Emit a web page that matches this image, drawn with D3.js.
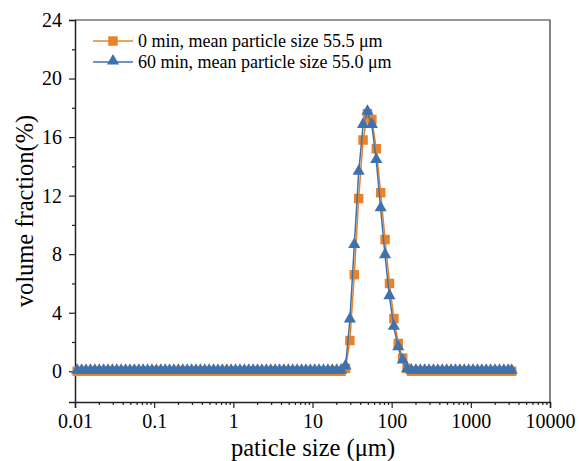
<!DOCTYPE html>
<html>
<head>
<meta charset="utf-8">
<script src="https://cdn.jsdelivr.net/npm/d3@7"></script>
<style>
  body { margin: 0; background: #fff; }
  svg text { font-family: "Liberation Serif", "Times New Roman", serif; fill: #000; }
</style>
</head>
<body>
<div id="chart"></div>
<script>
// particle size classes (bin centres, µm)
const sizes = [
  0.01066, 0.01212, 0.01377, 0.01565, 0.01778, 0.02021, 0.02297, 0.02610, 0.02966, 0.03371,
  0.03831, 0.04354, 0.04948, 0.05623, 0.06391, 0.07263, 0.08254, 0.09380, 0.1066, 0.1212,
  0.1377, 0.1565, 0.1778, 0.2021, 0.2297, 0.2610, 0.2966, 0.3371, 0.3831, 0.4354,
  0.4948, 0.5623, 0.6391, 0.7263, 0.8254, 0.9380, 1.066, 1.212, 1.377, 1.565,
  1.778, 2.021, 2.297, 2.610, 2.966, 3.371, 3.831, 4.354, 4.948, 5.623,
  6.391, 7.263, 8.254, 9.380, 10.66, 12.12, 13.77, 15.65, 17.78, 20.21,
  22.97, 26.10, 29.66, 33.71, 38.31, 43.54, 49.48, 56.23, 63.91, 72.63,
  82.54, 93.80, 106.6, 121.2, 137.7, 156.5, 177.8, 202.1, 229.7, 261.0,
  296.6, 337.1, 383.1, 435.4, 494.8, 562.3, 639.1, 726.3, 825.4, 938.0,
  1066, 1212, 1377, 1565, 1778, 2021, 2297, 2610, 2966, 3280
];

// volume fraction (%), 0 min
const vol0 = [
  0,0,0,0,0,0,0,0,0,0, 0,0,0,0,0,0,0,0,0,0,
  0,0,0,0,0,0,0,0,0,0, 0,0,0,0,0,0,0,0,0,0,
  0,0,0,0,0,0,0,0,0,0, 0,0,0,0,0,0,0,0,0,0,
  0, 0.2, 2.1, 6.6, 11.8, 15.8, 17.6, 17.2, 15.2, 12.2,
  9.0, 6.0, 3.6, 1.9, 0.9, 0.2, 0,0,0,0,
  0,0,0,0,0,0,0,0,0,0, 0,0,0,0,0,0,0,0,0,0
];

// volume fraction (%), 60 min
const vol60 = [
  0,0,0,0,0,0,0,0,0,0, 0,0,0,0,0,0,0,0,0,0,
  0,0,0,0,0,0,0,0,0,0, 0,0,0,0,0,0,0,0,0,0,
  0,0,0,0,0,0,0,0,0,0, 0,0,0,0,0,0,0,0,0,0,
  0, 0.3, 3.5, 8.6, 13.6, 16.8, 17.7, 16.8, 14.4, 11.1,
  7.9, 5.1, 3.0, 1.6, 0.7, 0.1, 0,0,0,0,
  0,0,0,0,0,0,0,0,0,0, 0,0,0,0,0,0,0,0,0,0
];

const seriesNames = ["0 min, mean particle size 55.5 \u03bcm", "60 min, mean particle size 55.0 \u03bcm"];
const seriesColors = ["#E8832C", "#3D72AE"];

const xTicks = [0.01, 0.1, 1, 10, 100, 1000, 10000];
const xTickLabels = ["0.01", "0.1", "1", "10", "100", "1000", "10000"];
const yTicks = [0, 4, 8, 12, 16, 20, 24];
const yMinorTicks = [2, 6, 10, 14, 18, 22];

const width = 579, height = 461;
const mLeft = 75, mRight = 550, mTop = 20, mBottom = 402;

const svg = d3.select("#chart").append("svg")
  .attr("width", width)
  .attr("height", height);

const x = d3.scaleLog().domain([0.01, 10000]).range([mLeft, mRight]);
const y = d3.scaleLinear().domain([-2.1, 24]).range([mBottom, mTop]);

// frame (top and right)
svg.append("path")
  .attr("d", `M${mLeft},${mTop}H${mRight}V${mBottom}`)
  .attr("fill", "none")
  .attr("stroke", "#333")
  .attr("stroke-width", 1.2);

// x axis
const xAxis = svg.append("g")
  .attr("transform", `translate(0,${mBottom})`)
  .call(d3.axisBottom(x).tickValues(xTicks).tickFormat((d, i) => xTickLabels[i]).tickSize(6).tickPadding(6));

const xMinor = x.ticks().filter(d => !xTicks.some(t => Math.abs(t - d) / t < 1e-6));
svg.append("g")
  .attr("transform", `translate(0,${mBottom})`)
  .call(d3.axisBottom(x).tickValues(xMinor).tickFormat("").tickSize(3))
  .call(g => g.select(".domain").remove());

// y axis
const yAxis = svg.append("g")
  .attr("transform", `translate(${mLeft},0)`)
  .call(d3.axisLeft(y).tickValues(yTicks).tickSize(6).tickPadding(7));

svg.append("g")
  .attr("transform", `translate(${mLeft},0)`)
  .call(d3.axisLeft(y).tickValues(yMinorTicks).tickFormat("").tickSize(3))
  .call(g => g.select(".domain").remove());

svg.selectAll(".domain").attr("stroke", "#222").attr("stroke-width", 1.5);
svg.selectAll(".tick line").attr("stroke", "#222").attr("stroke-width", 1.2);
xAxis.selectAll(".tick text").attr("font-size", 20).attr("font-family", "Liberation Serif");
yAxis.selectAll(".tick text").attr("font-size", 20).attr("font-family", "Liberation Serif");

// axis titles
svg.append("text")
  .attr("x", 313)
  .attr("y", 456)
  .attr("text-anchor", "middle")
  .attr("font-size", 24.5)
  .text("paticle size (\u03bcm)");

svg.append("text")
  .attr("transform", `translate(33,${(mTop + mBottom) / 2}) rotate(-90)`)
  .attr("text-anchor", "middle")
  .attr("font-size", 24.5)
  .text("volume fraction(%)");

// series
const line = d3.line()
  .x(d => x(d[0]))
  .y(d => y(d[1]));

const data0 = sizes.map((s, i) => [s, vol0[i]]);
const data60 = sizes.map((s, i) => [s, vol60[i]]);

const sq = d3.symbol().type(d3.symbolSquare).size(90);
const tri = d3.symbol().type(d3.symbolTriangle).size(64);

svg.append("path")
  .datum(data0)
  .attr("fill", "none")
  .attr("stroke", seriesColors[0])
  .attr("stroke-width", 1.5)
  .attr("d", line);

svg.append("g").selectAll("path")
  .data(data0)
  .enter()
  .append("path")
  .attr("transform", d => `translate(${x(d[0])},${y(d[1])})`)
  .attr("d", sq)
  .attr("fill", seriesColors[0]);

svg.append("path")
  .datum(data60)
  .attr("fill", "none")
  .attr("stroke", seriesColors[1])
  .attr("stroke-width", 1.5)
  .attr("d", line);

svg.append("g").selectAll("path")
  .data(data60)
  .enter()
  .append("path")
  .attr("transform", d => `translate(${x(d[0])},${y(d[1]) - 1})`)
  .attr("d", tri)
  .attr("fill", seriesColors[1]);

// legend
const legend = svg.append("g");
[0, 1].forEach(i => {
  const ly = 41 + i * 21;
  legend.append("line")
    .attr("x1", 93).attr("x2", 133)
    .attr("y1", ly).attr("y2", ly)
    .attr("stroke", seriesColors[i])
    .attr("stroke-width", 1.5);
  legend.append("path")
    .attr("transform", `translate(113,${ly - (i ? 1 : 0)})`)
    .attr("d", i ? tri : sq)
    .attr("fill", seriesColors[i]);
  legend.append("text")
    .attr("x", 138)
    .attr("y", ly + 6)
    .attr("font-size", 18)
    .text(seriesNames[i]);
});
</script>
</body>
</html>
